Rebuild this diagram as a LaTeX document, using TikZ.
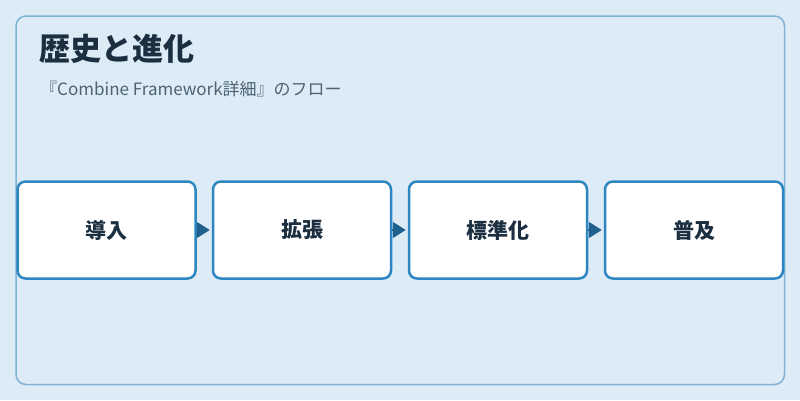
\documentclass[tikz,border=0pt]{standalone}
\usepackage{fontspec}
\setmainfont{Noto Sans CJK JP}
\usetikzlibrary{arrows.meta}
\definecolor{bgc}{HTML}{DCEBF6}
\definecolor{framec}{HTML}{7FB3D5}
\definecolor{boxc}{HTML}{2E86C1}
\definecolor{arrowc}{HTML}{1F618D}
\definecolor{titlec}{HTML}{1B2F40}
\definecolor{subc}{HTML}{4D6373}
\tikzset{
  stepbox/.style={draw=boxc, line width=2.5pt, fill=white, rounded corners=8pt,
    minimum width=178pt, minimum height=97pt, inner sep=0pt,
    font=\fontsize{21pt}{24pt}\selectfont\bfseries, text=titlec},
  flow/.style={draw=arrowc, line width=1.5pt, -{Triangle[length=13pt,width=16pt]}, shorten >=2pt},
}
\begin{document}
\begin{tikzpicture}[x=1pt,y=-1pt]
\useasboundingbox (0,0) rectangle (800,400);
\fill[bgc] (0,0) rectangle (800,400);
\draw[framec, line width=1.5pt, rounded corners=10pt] (16,16) rectangle (784.5,384.5);
\node[anchor=base west, inner sep=0pt, text=titlec, font=\fontsize{31pt}{34pt}\selectfont\bfseries] (title) at (39,60) {歴史と進化};
\node[anchor=base west, inner sep=0pt, text=subc, font=\fontsize{17pt}{20pt}\selectfont] (sub) at (40,95) {『Combine Framework詳細』のフロー};
\node[stepbox] (b1) at (106.5,230) {導入};
\node[stepbox] (b2) at (302,230) {拡張};
\node[stepbox] (b3) at (498,230) {標準化};
\node[stepbox] (b4) at (694,230) {普及};
\draw[flow] (b1.east) -- (b2.west);
\draw[flow] (b2.east) -- (b3.west);
\draw[flow] (b3.east) -- (b4.west);
\end{tikzpicture}
\end{document}
